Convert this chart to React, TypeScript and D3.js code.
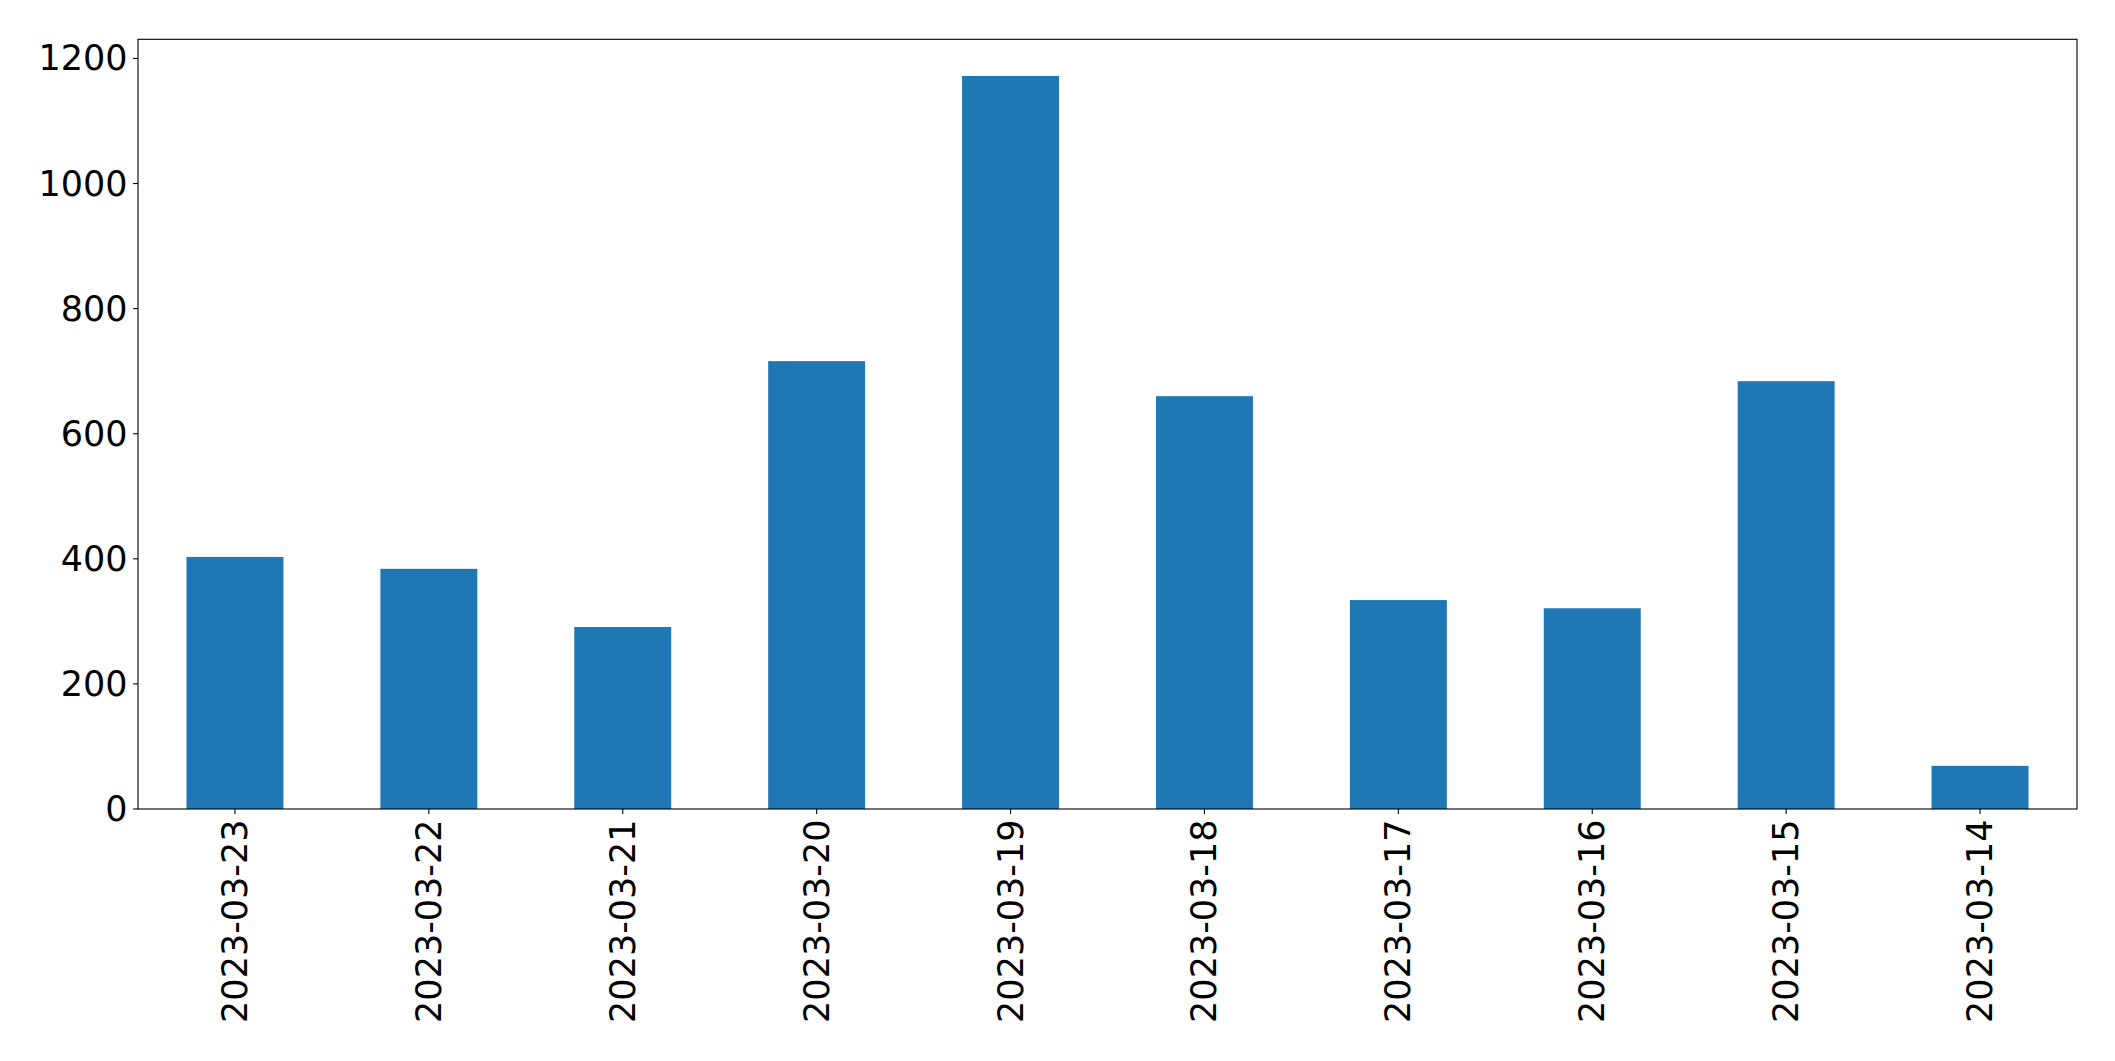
import React from "react";
import * as d3 from "d3";

const categories = [
  "2023-03-23", "2023-03-22", "2023-03-21", "2023-03-20", "2023-03-19",
  "2023-03-18", "2023-03-17", "2023-03-16", "2023-03-15", "2023-03-14",
];
const values = [403, 384, 291, 716, 1172, 660, 334, 321, 684, 69];
const yTicks = [0, 200, 400, 600, 800, 1000, 1200];

const W = 2115;
const H = 1061;
const M = { left: 138, right: 2077, top: 39.3, bottom: 809 };
const FONT = "DejaVu Sans, sans-serif";
const FS = 35;

export default function App() {
  const x = d3
    .scaleBand<string>()
    .domain(categories)
    .range([M.left, M.right])
    .paddingInner(0.5)
    .paddingOuter(0.25);
  const ymax = (d3.max(values) as number) * 1.05;
  const y = d3.scaleLinear().domain([0, ymax]).range([M.bottom, M.top]);

  return (
    <svg
      width={W}
      height={H}
      style={{ position: "absolute", left: 0, top: 0, display: "block", background: "#fff" }}
    >
      <rect x={0} y={0} width={W} height={H} fill="#fff" />
      {categories.map((c, i) => (
        <rect
          key={c}
          x={x(c)}
          y={y(values[i])}
          width={x.bandwidth()}
          height={y(0) - y(values[i])}
          fill="#1f77b4"
        />
      ))}
      <rect
        x={M.left}
        y={M.top}
        width={M.right - M.left}
        height={M.bottom - M.top}
        fill="none"
        stroke="#000"
        strokeWidth={1.1}
      />
      {yTicks.map((t) => (
        <g key={t}>
          <line x1={M.left - 4.9} x2={M.left} y1={y(t)} y2={y(t)} stroke="#000" strokeWidth={1.1} />
          <text
            x={M.left - 10.5}
            y={y(t)}
            textAnchor="end"
            dominantBaseline="central"
            fontFamily={FONT}
            fontSize={FS}
            fill="#000"
          >
            {t}
          </text>
        </g>
      ))}
      {categories.map((c) => {
        const cx = (x(c) as number) + x.bandwidth() / 2;
        const ty = M.bottom + 10.5;
        return (
          <g key={c}>
            <line x1={cx} x2={cx} y1={M.bottom} y2={M.bottom + 4.9} stroke="#000" strokeWidth={1.1} />
            <text
              transform={`translate(${cx},${ty}) rotate(-90)`}
              textAnchor="end"
              dominantBaseline="central"
              fontFamily={FONT}
              fontSize={FS}
              fill="#000"
            >
              {c}
            </text>
          </g>
        );
      })}
    </svg>
  );
}
